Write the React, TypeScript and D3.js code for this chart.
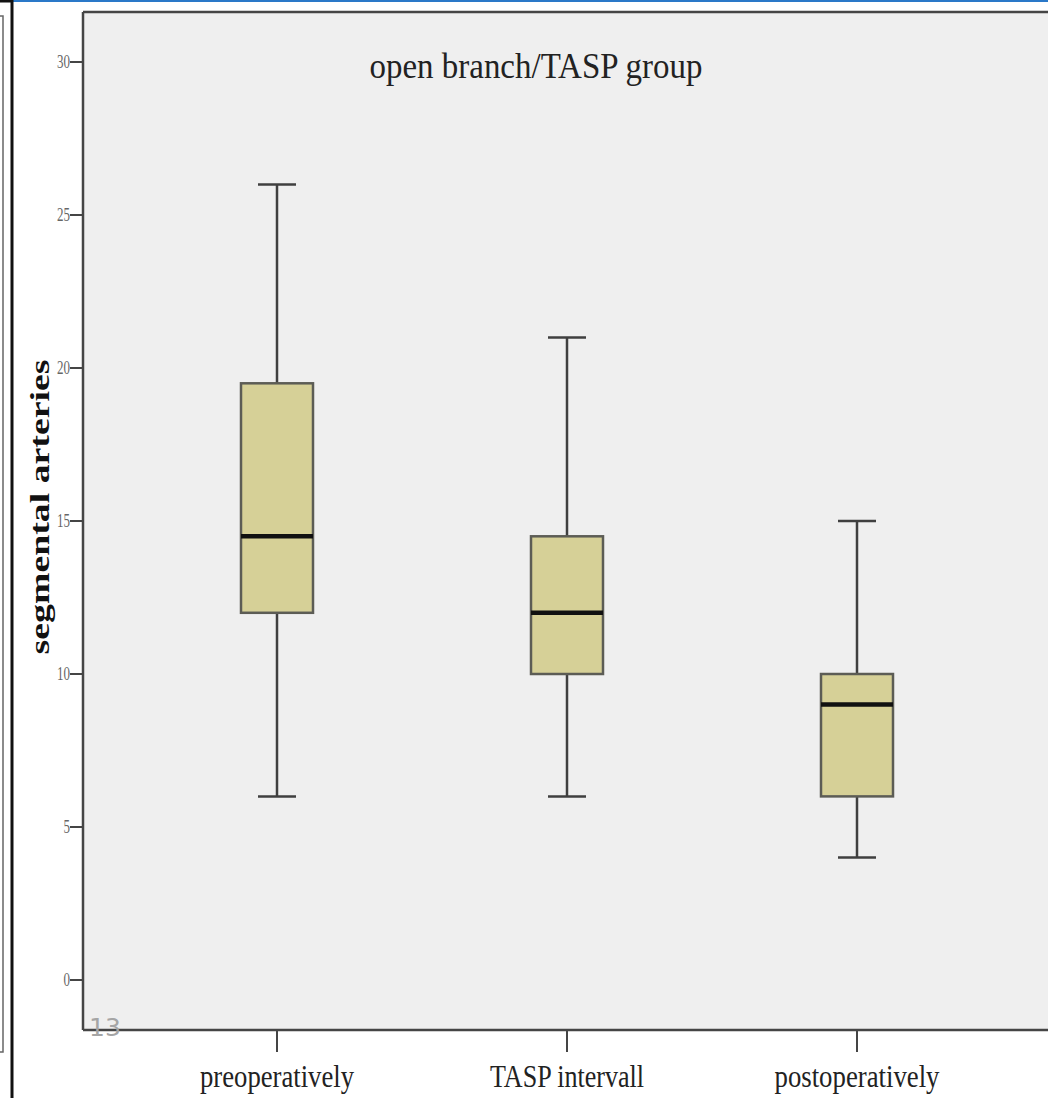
import React from "react";
import * as d3 from "d3";

const categories = ["preoperatively", "TASP intervall", "postoperatively"];
const whiskerLow = [6, 6, 4];
const q1 = [12, 10, 6];
const median = [14.5, 12, 9];
const q3 = [19.5, 14.5, 10];
const whiskerHigh = [26, 21, 15];
const yTicks = [0, 5, 10, 15, 20, 25, 30];
const title = "open branch/TASP group";
const yLabel = "segmental arteries";
const slideNumber = "13";

const W = 1048;
const H = 1098;
const plotLeft = 83;
const plotTop = 12;
const plotBottom = 1030;
const plotRight = 1048;

export default function App() {
  const y = d3.scaleLinear().domain([0, 30]).range([980, 62]);
  const x = d3.scaleBand<string>().domain(categories).range([132, 1002]).padding(0);
  const boxW = 72;
  const capW = 38;
  const serif = "'Liberation Serif', 'Times New Roman', serif";
  const axisColor = "#454545";
  const boxFill = "#d6d097";
  const boxStroke = "#5c5c55";

  return (
    <svg
      width={W}
      height={H}
      style={{ position: "absolute", left: 0, top: 0, background: "#fff" }}
    >
      <rect x={0} y={0} width={W} height={H} fill="#fff" />
      {/* slide decorations */}
      <rect x={13} y={0} width={W - 13} height={2} fill="#2a78c8" />
      <rect x={0} y={0} width={13} height={2.5} fill="#111" />
      <rect x={10.5} y={0} width={3} height={H} fill="#111" />
      <path d={`M0,16 H3 V1052 H0`} fill="none" stroke="#666" strokeWidth={1.5} />

      {/* plot background */}
      <rect x={plotLeft} y={plotTop} width={plotRight - plotLeft} height={plotBottom - plotTop} fill="#efefef" />

      {/* frame */}
      <line x1={plotLeft} x2={plotRight} y1={plotTop} y2={plotTop} stroke={axisColor} strokeWidth={2.5} />
      <line x1={plotLeft} x2={plotLeft} y1={plotTop} y2={plotBottom} stroke={axisColor} strokeWidth={2.5} />
      <line x1={plotLeft} x2={plotRight} y1={plotBottom} y2={plotBottom} stroke={axisColor} strokeWidth={2.5} />

      {/* y ticks */}
      {yTicks.map((t) => (
        <g key={t}>
          <line x1={plotLeft - 13} x2={plotLeft} y1={y(t)} y2={y(t)} stroke={axisColor} strokeWidth={2} />
          <text
            x={plotLeft - 13}
            y={y(t) + 6}
            textAnchor="end"
            fontFamily={serif}
            fontSize={19}
            fill="#666"
            textLength={String(t).length * 6.5}
            lengthAdjust="spacingAndGlyphs"
          >
            {t}
          </text>
        </g>
      ))}

      {/* x ticks and labels */}
      {categories.map((c) => {
        const cx = (x(c) as number) + x.bandwidth() / 2;
        return (
          <g key={c}>
            <line x1={cx} x2={cx} y1={plotBottom} y2={plotBottom + 22} stroke={axisColor} strokeWidth={2} />
            <text
              x={cx}
              y={1087}
              textAnchor="middle"
              fontFamily={serif}
              fontSize={31}
              fill="#222"
              textLength={c.length * 11}
              lengthAdjust="spacingAndGlyphs"
            >
              {c}
            </text>
          </g>
        );
      })}

      {/* boxes */}
      {categories.map((c, i) => {
        const cx = (x(c) as number) + x.bandwidth() / 2;
        return (
          <g key={c}>
            <line x1={cx} x2={cx} y1={y(whiskerHigh[i])} y2={y(q3[i])} stroke="#3f3f3f" strokeWidth={2.5} />
            <line x1={cx} x2={cx} y1={y(q1[i])} y2={y(whiskerLow[i])} stroke="#3f3f3f" strokeWidth={2.5} />
            <line x1={cx - capW / 2} x2={cx + capW / 2} y1={y(whiskerHigh[i])} y2={y(whiskerHigh[i])} stroke="#3f3f3f" strokeWidth={2.5} />
            <line x1={cx - capW / 2} x2={cx + capW / 2} y1={y(whiskerLow[i])} y2={y(whiskerLow[i])} stroke="#3f3f3f" strokeWidth={2.5} />
            <rect
              x={cx - boxW / 2}
              y={y(q3[i])}
              width={boxW}
              height={y(q1[i]) - y(q3[i])}
              fill={boxFill}
              stroke={boxStroke}
              strokeWidth={2.5}
            />
            <line x1={cx - boxW / 2} x2={cx + boxW / 2} y1={y(median[i])} y2={y(median[i])} stroke="#111" strokeWidth={4.5} />
          </g>
        );
      })}

      {/* title */}
      <text
        x={536}
        y={78}
        textAnchor="middle"
        fontFamily={serif}
        fontSize={36}
        fill="#222"
        textLength={333}
        lengthAdjust="spacingAndGlyphs"
      >
        {title}
      </text>

      {/* y label */}
      <text
        transform={`translate(49,507) rotate(-90)`}
        textAnchor="middle"
        fontFamily={serif}
        fontSize={28}
        fontWeight="bold"
        fill="#111"
        textLength={295}
        lengthAdjust="spacingAndGlyphs"
      >
        {yLabel}
      </text>

      {/* slide number overlay */}
      <text x={89} y={1036} fontFamily="'DejaVu Sans', 'Noto Sans', sans-serif" fontSize={25} fill="#a5a5a5">
        {slideNumber}
      </text>
    </svg>
  );
}
